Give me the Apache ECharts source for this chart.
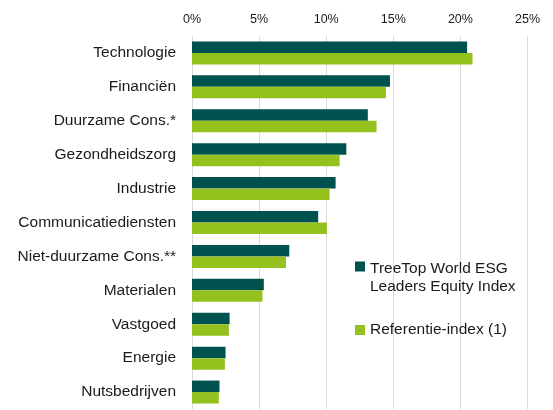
<!DOCTYPE html>
<html>
<head>
<meta charset="utf-8">
<script src="https://cdn.jsdelivr.net/npm/echarts@6/dist/echarts.min.js"></script>
<style>
  html, body { margin: 0; padding: 0; background: #fff; }
  #chart { width: 553px; height: 410px; }
</style>
</head>
<body>
<div id="chart"></div>
<script>
// sectoren, van boven naar beneden
const sectors = ['Technologie', 'Financiën', 'Duurzame Cons.*', 'Gezondheidszorg', 'Industrie',
  'Communicatiediensten', 'Niet-duurzame Cons.**', 'Materialen', 'Vastgoed', 'Energie', 'Nutsbedrijven']
const treetop = [20.5, 14.75, 13.1, 11.5, 10.7, 9.4, 7.25, 5.35, 2.8, 2.5, 2.05]
const referentie = [20.9, 14.45, 13.75, 11.0, 10.25, 10.05, 7.0, 5.25, 2.75, 2.45, 2.0]
const xTicks = [0, 5, 10, 15, 20, 25]

const darkGreen = '#00524f'
const lightGreen = '#95c11f'
const font = '"Liberation Sans", Arial, sans-serif'

var myChart = echarts.init(document.getElementById('chart'))
myChart.setOption({
  animation: false,
  grid: {
    left: 192,
    right: 25.5,
    top: 36,
    bottom: 1
  },
  legend: {
    orient: 'vertical',
    left: 350,
    top: 255,
    itemWidth: 10,
    itemHeight: 36,
    itemGap: 16,
    textStyle: { fontFamily: font, fontSize: 15.5, color: '#1a1a1a', lineHeight: 18 },
    data: [
      { name: 'TreeTop World ESG\nLeaders Equity Index', icon: 'path://M0,3h10v10h-10z M0,36h0.01v0.01z' },
      { name: 'Referentie-index (1)', icon: 'path://M0,13h10v10h-10z M0,0h0.01v0.01z M0,36h0.01v0.01z' }
    ]
  },
  xAxis: {
    type: 'value',
    position: 'top',
    min: xTicks[0],
    max: xTicks[xTicks.length - 1],
    interval: 5,
    axisLine: { show: false },
    axisTick: { show: false },
    axisLabel: {
      margin: 10,
      formatter: '{value}%',
      fontFamily: font,
      fontSize: 12.5,
      color: '#1a1a1a'
    },
    splitLine: { lineStyle: { color: '#d9d9d9', width: 1 } }
  },
  yAxis: {
    type: 'category',
    inverse: true,
    data: sectors,
    axisLine: { show: false },
    axisTick: { show: false },
    axisLabel: {
      margin: 16,
      fontFamily: font,
      fontSize: 15.5,
      color: '#1a1a1a'
    }
  },
  series: [
    {
      name: 'TreeTop World ESG\nLeaders Equity Index',
      type: 'bar',
      data: treetop,
      barWidth: 11.5,
      barGap: '0%',
      itemStyle: { color: darkGreen }
    },
    {
      name: 'Referentie-index (1)',
      type: 'bar',
      data: referentie,
      barWidth: 11.5,
      barGap: '0%',
      itemStyle: { color: lightGreen }
    }
  ]
})
</script>
</body>
</html>
